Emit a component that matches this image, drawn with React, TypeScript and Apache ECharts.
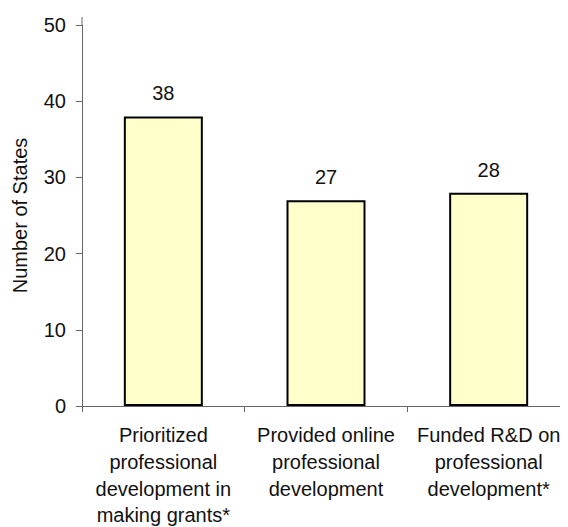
import React, { useEffect, useRef } from "react";
import * as echarts from "echarts";

const categories = [
  "Prioritized\nprofessional\ndevelopment in\nmaking grants*",
  "Provided online\nprofessional\ndevelopment",
  "Funded R&D on\nprofessional\ndevelopment*",
];
const values = [38, 27, 28];
const yTicks = { min: 0, max: 50, interval: 10 };
const yAxisName = "Number of States";

const FONT = "'Liberation Sans', Arial, sans-serif";

export default function App() {
  const ref = useRef<HTMLDivElement>(null);
  useEffect(() => {
    if (!ref.current) return;
    const chart = echarts.init(ref.current, undefined, { renderer: "svg" });
    chart.setOption({
      animation: false,
      backgroundColor: "#ffffff",
      textStyle: { fontFamily: FONT },
      grid: {
        left: 74,
        top: 17,
        right: -2,
        bottom: 121,
        containLabel: false,
        outerBoundsMode: "none",
      },
      xAxis: {
        type: "category",
        data: categories,
        axisLine: { show: true, lineStyle: { color: "#666666", width: 1 } },
        axisTick: { show: true, alignWithLabel: false, length: 6, lineStyle: { color: "#666666" } },
        axisLabel: {
          color: "#111111",
          fontSize: 20,
          fontFamily: FONT,
          lineHeight: 26.7,
          margin: 16,
          interval: 0,
          align: "center",
          hideOverlap: false,
        },
      },
      yAxis: {
        type: "value",
        min: yTicks.min,
        max: yTicks.max,
        interval: yTicks.interval,
        name: yAxisName,
        nameLocation: "middle",
        nameGap: 52,
        nameTextStyle: { color: "#111111", fontSize: 20, fontFamily: FONT },
        axisLine: { show: true, lineStyle: { color: "#666666", width: 1 } },
        axisTick: { show: true, length: 6, lineStyle: { color: "#666666" } },
        axisLabel: { color: "#111111", fontSize: 20, fontFamily: FONT, margin: 16 },
        splitLine: { show: false },
      },
      graphic: [
        {
          type: "line",
          shape: { x1: 74, y1: 9, x2: 74, y2: 17 },
          style: { stroke: "#666666", lineWidth: 1 },
        },
      ],
      series: [
        {
          type: "bar",
          data: values,
          barWidth: 79,
          itemStyle: { color: "#FFFFCC", borderColor: "#000000", borderWidth: 2 },
          label: {
            show: true,
            position: "top",
            distance: 13,
            color: "#111111",
            fontSize: 20,
            fontFamily: FONT,
          },
        },
      ],
    });
    return () => chart.dispose();
  }, []);
  return <div ref={ref} style={{ width: 560, height: 519 }} />;
}
